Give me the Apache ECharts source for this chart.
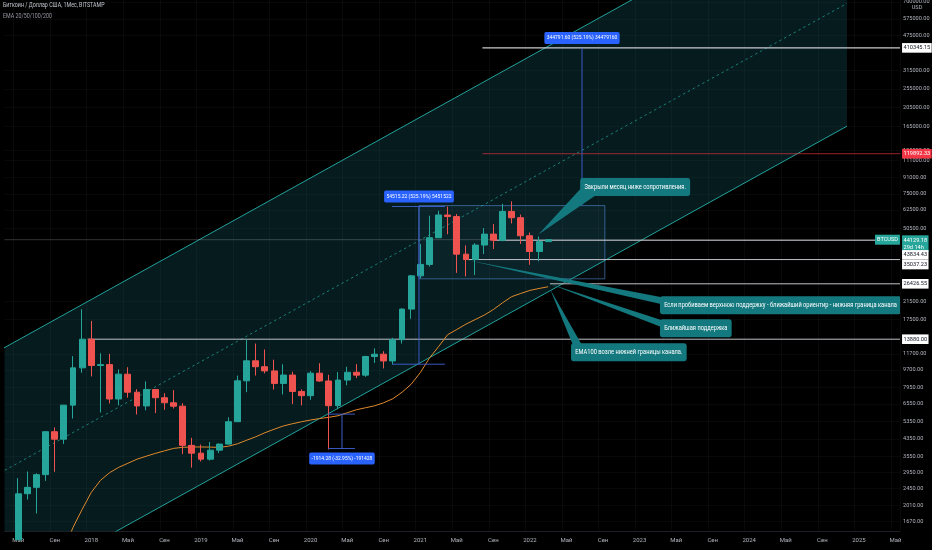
<!DOCTYPE html>
<html><head><meta charset="utf-8">
<script src="https://cdn.jsdelivr.net/npm/echarts@6/dist/echarts.min.js"></script>
<style>html,body{margin:0;padding:0;background:#000;}#c{width:932px;height:550px;}</style>
</head><body><div id="c"></div>
<script>
// ---------- data ----------
const months = [
'2017-04','2017-05','2017-06','2017-07','2017-08','2017-09','2017-10','2017-11','2017-12',
'2018-01','2018-02','2018-03','2018-04','2018-05','2018-06','2018-07','2018-08','2018-09','2018-10','2018-11','2018-12',
'2019-01','2019-02','2019-03','2019-04','2019-05','2019-06','2019-07','2019-08','2019-09','2019-10','2019-11','2019-12',
'2020-01','2020-02','2020-03','2020-04','2020-05','2020-06','2020-07','2020-08','2020-09','2020-10','2020-11','2020-12',
'2021-01','2021-02','2021-03','2021-04','2021-05','2021-06','2021-07','2021-08','2021-09','2021-10','2021-11','2021-12',
'2022-01','2022-02','2022-03','2022-04','2022-05','2022-06','2022-07','2022-08','2022-09','2022-10','2022-11','2022-12',
'2023-01','2023-02','2023-03','2023-04','2023-05','2023-06','2023-07','2023-08','2023-09','2023-10','2023-11','2023-12',
'2024-01','2024-02','2024-03','2024-04','2024-05','2024-06','2024-07','2024-08','2024-09','2024-10','2024-11','2024-12',
'2025-01','2025-02','2025-03','2025-04','2025-05'];

const opens  = [1079,1348,2303,2480,2875,4735,4340,6450,9946,13880,10221,10330,6925,9245,7495,6390,7730,7030,6630,6370,4040,
  3690,3440,3820,4100,5320,8560,10800,10080,9600,8300,9150,7560,7200,9350,8540,6410,8630,9450,9140,11350,11660,10780,13800,19700,
  28990,33110,45160,58800,57750,37300,35037,41460,47100,43834,61300,57000,46200,38480,43160];
const highs  = [1350,2760,2980,2920,4750,4980,6470,11400,19666,17170,11780,11700,9770,10020,7765,8500,7760,7410,7680,6600,4410,
  4080,4200,4130,5600,9090,13880,13200,12320,10940,10370,9520,7750,9580,10500,9180,9460,10070,10390,11440,12470,12070,14100,19890,29300,
  41950,58350,61780,64895,59500,41330,42400,50500,52920,67000,69000,59100,47990,45800,44300];
const lows   = [1061,1348,2150,1830,2675,2972,4110,5520,9400,9005,5920,6580,6430,7035,5780,6075,5880,6110,6200,3650,3120,
  3350,3390,3690,4070,5330,7500,9100,9330,7730,7300,6530,6430,6860,8450,3850,6150,8120,8830,8970,10540,9880,10380,13200,17600,
  28130,32300,44950,47000,30000,28800,29300,37330,39600,43300,53300,42000,32950,34320,43000];
const closes = [1348,2300,2480,2875,4735,4340,6450,9946,13880,10221,10330,6925,9245,7495,6390,7730,7030,6630,6370,4040,3690,
  3440,3820,4100,5320,8560,10800,10080,9600,8300,9150,7560,7200,9350,8540,6410,8630,9450,9140,11350,11660,10780,13800,19700,28990,
  33110,45160,58800,57750,37300,35037,41460,47100,43834,61300,57000,46200,38480,43160,44129];
const ema = [null,null,null,null,null,null,1200,1557,1920,2340,2690,2940,3130,3280,3440,3560,3680,3790,3900,3950,3965,
  3965,3960,3945,4000,4115,4290,4465,4680,4870,5060,5195,5315,5425,5520,5600,5700,5900,6110,6255,6400,6630,6950,7490,8220,
  9405,11130,12725,14635,15540,16540,17430,18370,19590,21190,22760,23620,24480,25030,25540];

const yTicks = [700000,575000,475000,315000,255000,205000,165000,125000,111000,91000,75000,62500,50500,
  21500,17500,11700,9700,7950,6550,5350,4350,3550,2950,2450,2010,1670];
const priceRange = [1493, 716000];

// parallel channel (month index, price)
const channelX = [-1, 91.7];
const channelUpper = [12220, 2870000];
const channelMid = [2930, 688000];
const channelLower = [703, 165200];

// horizontal levels
const levelPrices = [410345.15, 119892.33, 44129.18, 43834.43, 35037.23, 26426.55, 13880.00];
const levelStarts = [51.8, 51.8, -0.5, 53, 50.3, 59.2, 8.6];

// price range zone
const zoneX = [44.86, 65.2];
const zonePrices = [28000, 65600];

// measurement tools
const measureX = [44.86, 62.7, 36.43];
const measureFrom = [10380, 65553, 5810];
const measureTo = [64895, 410345, 3896];
const measureCaps = [[41.9, 47.7], null, [34.9, 37.86]];
const measureText = ['54515.22 (525.19%) 5451522', '344791.60 (525.19%) 34479160', '-1914.28 (-32.95%) -191428'];

// callouts
const calloutText = ['Закрыли месяц ниже сопротивления.',
  'Если пробиваем верхнюю поддержку - ближайший ориентир - нижняя граница канала',
  'Ближайшая поддержка',
  'EMA100 возле нижней границы канала.'];
const calloutBox = [[62.5, 90400], [71.23, 22900], [71.23, 17520], [61.5, 13260]];
const calloutTip = [[57.9, 46680], [50.11, 34820], [58.98, 26620], [59.2, 24850]];
const calloutSide = ['bl', 'left', 'left', 'top'];

const titleText = 'Биткоин / Доллар США, 1Мес, BITSTAMP';
const subtitleText = 'EMA 20/50/100/200';

// ---------- chart ----------
const L = Math.log;
const FONT = "Roboto, 'Noto Sans', sans-serif";
const TXT = '#b2b5be';
const UP = '#26a69a', DOWN = '#ef5350';
const CALL = '#14797f';
const MEAS = '#3f63d6';
const SQ = 0.8; // horizontal text condensation
const lastX = months.length - 0.5;

function seg(x0, p0, x1, p1) { return [[x0, L(p0)], [x1, L(p1)]]; }
function clipRect(cs) { return {type: 'rect', shape: {x: cs.x, y: cs.y, width: cs.width, height: cs.height}}; }

const monthKey = v => v.slice(5);
const showLabel = (idx, v) => ['01', '05', '09'].indexOf(monthKey(v)) >= 0;
const fmtLabel = v => { const m = monthKey(v); return m === '01' ? v.slice(0, 4) : (m === '05' ? 'Май' : 'Сен'); };

const candleData = opens.map((o, i) => [L(o), L(closes[i]), L(lows[i]), L(highs[i])]);
const emaData = ema.map(v => v == null ? '-' : L(v));

const levelStyle = [
  {line: {color: '#c9cbd1', width: 1.2}, bg: '#ffffff', fg: '#131722', off: 0},
  {line: {color: 'rgba(242,54,69,0.8)', width: 0.8}, bg: '#f23645', fg: '#ffffff', off: 0},
  {line: {color: 'rgba(190,190,190,0.35)', width: 0.8}, bg: UP, fg: '#ffffff', off: 4, extra: '\n29d 14h'},
  {line: {color: '#bfc1c7', width: 1}, bg: '#ffffff', fg: '#131722', off: 14.6},
  {line: {color: '#bfc1c7', width: 1}, bg: '#ffffff', fg: '#131722', off: 5},
  {line: {color: '#bfc1c7', width: 1}, bg: '#ffffff', fg: '#131722', off: 0},
  {line: {color: '#bfc1c7', width: 1}, bg: '#ffffff', fg: '#131722', off: 0}
];

const series = [];

// channel fill
series.push({
  type: 'custom', xAxisIndex: 1, yAxisIndex: 0, z: 1, silent: true,
  data: [[0, L(5000)]],
  renderItem(params, api) {
    const pts = [
      api.coord([channelX[0], L(channelUpper[0])]),
      api.coord([channelX[1], L(channelUpper[1])]),
      api.coord([channelX[1], L(channelLower[1])]),
      api.coord([channelX[0], L(channelLower[0])])
    ];
    return {type: 'polygon', shape: {points: pts}, style: {fill: 'rgba(30,150,165,0.18)'}, clipPath: clipRect(params.coordSys)};
  }
});

// zone rectangle
series.push({
  type: 'custom', xAxisIndex: 1, yAxisIndex: 0, z: 2, silent: true,
  data: [[zoneX[0], L(zonePrices[0])]],
  renderItem(params, api) {
    const a = api.coord([zoneX[0], L(zonePrices[1])]);
    const b = api.coord([zoneX[1], L(zonePrices[0])]);
    return {type: 'rect', shape: {x: a[0], y: a[1], width: b[0] - a[0], height: b[1] - a[1]},
      style: {fill: 'rgba(80,140,190,0.07)', stroke: 'rgba(90,150,230,0.55)', lineWidth: 1}};
  }
});

// channel lines
series.push({type: 'line', xAxisIndex: 1, z: 3, silent: true, symbol: 'none',
  data: seg(channelX[0], channelUpper[0], channelX[1], channelUpper[1]), lineStyle: {color: '#22a39c', width: 1}});
series.push({type: 'line', xAxisIndex: 1, z: 3, silent: true, symbol: 'none',
  data: seg(channelX[0], channelLower[0], channelX[1], channelLower[1]), lineStyle: {color: '#22a39c', width: 1}});
series.push({type: 'line', xAxisIndex: 1, z: 3, silent: true, symbol: 'none',
  data: seg(channelX[0], channelMid[0], channelX[1], channelMid[1]), lineStyle: {color: 'rgba(38,166,154,0.9)', width: 0.8, type: [2.5, 3]}});

// levels
levelPrices.forEach((p, i) => {
  const st = levelStyle[i];
  const mp = [{
    coord: [lastX, L(p)],
    label: {show: true, position: 'right', distance: 2, formatter: p.toFixed(2) + (st.extra || ''),
      backgroundColor: st.bg, color: st.fg, fontSize: 5.6, fontFamily: FONT, padding: [1.2, 1.5], lineHeight: 7.2,
      offset: [0, st.off]}
  }];
  if (i === 2) {
    mp.push({coord: [lastX, L(p)], label: {show: true, position: 'left', distance: 0, formatter: 'BTCUSD',
      backgroundColor: UP, color: '#fff', fontSize: 5.6, fontFamily: FONT, padding: [1.5, 2], lineHeight: 7}});
  }
  series.push({
    type: 'line', xAxisIndex: 1, z: 3, silent: true, symbol: 'none',
    data: seg(levelStarts[i], p, lastX, p), lineStyle: st.line,
    markPoint: {symbol: 'rect', symbolSize: [0.1, 0.1], itemStyle: {color: 'rgba(0,0,0,0)'}, z: 10, data: mp, silent: true}
  });
});

// EMA
series.push({type: 'line', name: 'EMA', xAxisIndex: 0, z: 4, silent: true, symbol: 'none',
  data: emaData, lineStyle: {color: '#e08a2c', width: 1}});

// candles
series.push({type: 'candlestick', xAxisIndex: 0, z: 5, clip: true, barWidth: 6.4, data: candleData,
  itemStyle: {color: UP, color0: DOWN, borderColor: UP, borderColor0: DOWN, borderWidth: 1}});

// measures
series.push({
  type: 'custom', xAxisIndex: 1, yAxisIndex: 0, z: 6, silent: true,
  data: measureX.map((x, i) => [x, L(measureFrom[i])]),
  renderItem(params, api) {
    const i = params.dataIndex;
    const a = api.coord([measureX[i], L(measureFrom[i])]);
    const b = api.coord([measureX[i], L(measureTo[i])]);
    const ch = [{type: 'line', shape: {x1: a[0], y1: a[1], x2: b[0], y2: b[1]}, style: {stroke: MEAS, lineWidth: 0.9}}];
    const caps = measureCaps[i];
    if (caps) {
      [measureFrom[i], measureTo[i]].forEach(p => {
        const c0 = api.coord([caps[0], L(p)]), c1 = api.coord([caps[1], L(p)]);
        ch.push({type: 'line', shape: {x1: c0[0], y1: c0[1], x2: c1[0], y2: c1[1]}, style: {stroke: MEAS, lineWidth: 0.9}});
      });
    }
    const up = measureTo[i] > measureFrom[i];
    ch.push({type: 'text', x: b[0], y: up ? b[1] - 4 : b[1] + 4, scaleX: SQ,
      style: {text: measureText[i], fill: '#fff', fontSize: 6.2, fontFamily: FONT, backgroundColor: '#2962ff',
        borderRadius: 2, padding: [3, 3], align: 'center', verticalAlign: up ? 'bottom' : 'top'}});
    return {type: 'group', children: ch};
  }
});

// callouts
series.push({
  type: 'custom', xAxisIndex: 1, yAxisIndex: 0, z: 7, silent: true,
  data: calloutBox.map(b => [b[0], L(b[1])]),
  renderItem(params, api) {
    const i = params.dataIndex;
    const tip = api.coord([calloutTip[i][0], L(calloutTip[i][1])]);
    const bx = api.coord([calloutBox[i][0], L(calloutBox[i][1])]);
    let p1, p2;
    if (calloutSide[i] === 'left') { p1 = [bx[0] + 2, bx[1] + 1]; p2 = [bx[0] + 2, bx[1] + 8]; }
    else if (calloutSide[i] === 'top') { p1 = [bx[0] + 2, bx[1] + 2]; p2 = [bx[0] + 11, bx[1] + 2]; }
    else { p1 = [bx[0] + 2, bx[1] + 9]; p2 = [bx[0] + 16, bx[1] + 17]; }
    return {type: 'group', clipPath: clipRect(params.coordSys), children: [
      {type: 'polygon', shape: {points: [tip, p1, p2]}, style: {fill: CALL}},
      {type: 'text', x: bx[0], y: bx[1], scaleX: 0.84, style: {text: calloutText[i], fill: '#ffffff', fontSize: 6.8, fontFamily: FONT,
        backgroundColor: CALL, borderRadius: 3, padding: [5, 5], align: 'left', verticalAlign: 'top', lineHeight: 8}}
    ]};
  }
});

const chart = echarts.init(document.getElementById('c'));
chart.setOption({
  animation: false,
  backgroundColor: '#000000',
  graphic: [
    {type: 'text', x: 3, y: 2, scaleX: 0.76, style: {text: titleText, fill: '#c3c6ce', fontSize: 7, fontFamily: FONT, verticalAlign: 'top'}},
    {type: 'text', x: 3, y: 13, scaleX: 0.76, style: {text: subtitleText, fill: '#9598a1', fontSize: 7, fontFamily: FONT, verticalAlign: 'top'}},
    {type: 'text', x: 917, y: 5, style: {text: 'USD', fill: TXT, fontSize: 5.6, fontFamily: FONT, align: 'center', verticalAlign: 'top'}}
  ],
  grid: {left: 4.5, right: 32, top: 0, bottom: 19, containLabel: false, outerBoundsMode: 'none'},
  xAxis: [
    {type: 'category', data: months, boundaryGap: true,
      axisLine: {show: true, lineStyle: {color: '#1c1f26'}}, axisTick: {show: false},
      axisLabel: {interval: showLabel, formatter: fmtLabel, color: TXT, fontSize: 6, fontFamily: FONT, margin: 6},
      splitLine: {show: true, interval: showLabel, lineStyle: {color: 'rgba(255,255,255,0.035)'}}},
    {type: 'value', min: -0.5, max: lastX, show: false}
  ],
  yAxis: {type: 'value', position: 'right', min: L(priceRange[0]), max: L(priceRange[1]),
    axisLine: {show: false}, axisTick: {show: false, customValues: yTicks.map(L)},
    axisLabel: {customValues: yTicks.map(L), formatter: v => Math.exp(v).toFixed(2), color: TXT, fontSize: 5.6, fontFamily: FONT, margin: 3},
    splitLine: {show: true, lineStyle: {color: 'rgba(255,255,255,0.03)'}}},
  series: series
});
</script>
</body></html>
